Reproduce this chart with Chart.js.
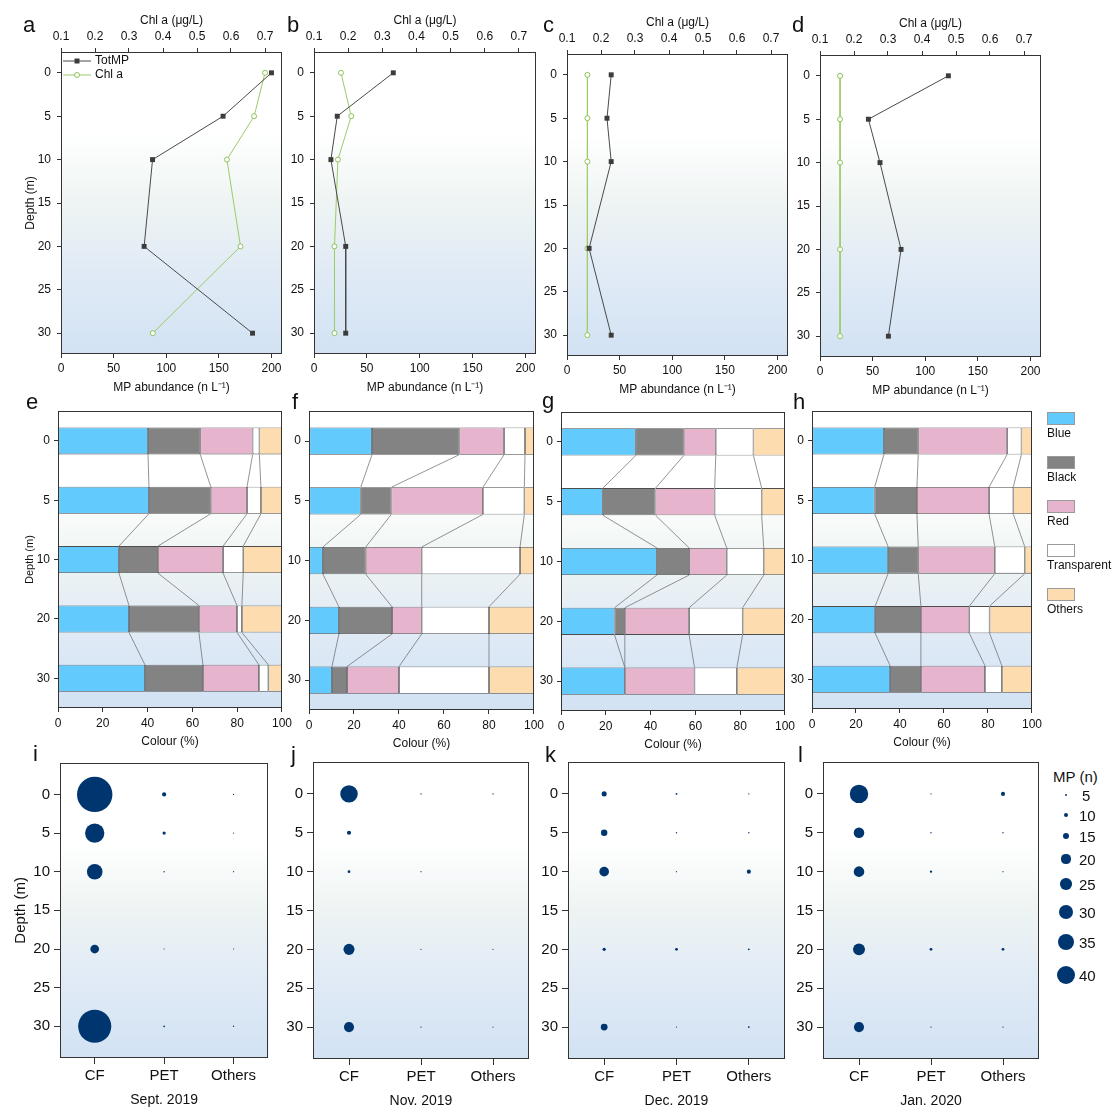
<!DOCTYPE html>
<html><head><meta charset="utf-8">
<script src="https://cdn.jsdelivr.net/npm/chart.js@4.4.0/dist/chart.umd.min.js"></script>
<style>
html,body{margin:0;padding:0;background:#fff;width:1116px;height:1110px;overflow:hidden;font-family:"Liberation Sans",Arial,sans-serif;}
#root{position:relative;width:1116px;height:1110px;}
canvas{position:absolute;}
.lbl{position:absolute;color:#111;white-space:nowrap;font-family:"Liberation Sans",Arial,sans-serif;}
</style></head><body>
<div id="root"></div>
<script>
// ---------------- DATA ----------------
const depthsLine = [0, 5, 10, 20, 30];
// panels a-d : MP abundance (n L-1) and Chl a (ug/L)
const mpA = [200, 154, 87, 79, 182];
const chlA = [0.700, 0.668, 0.588, 0.628, 0.370];
const mpB = [75, 22, 16, 30, 30];
const chlB = [0.179, 0.209, 0.170, 0.160, 0.160];
const mpC = [42, 38, 42, 21, 42];
const chlC = [0.160, 0.160, 0.160, 0.160, 0.160];
const mpD = [122, 46, 57, 77, 65];
const chlD = [0.159, 0.159, 0.159, 0.159, 0.159];

// panels e-h : colour composition (%)
const depthCats = ['0', '5', '10', '20', '30'];
const colourNames = ['Blue', 'Black', 'Red', 'Transparent', 'Others'];
const blueE = [40.2, 40.6, 27.2, 31.7, 38.8];
const blackE = [23.3, 27.6, 17.4, 31.2, 25.9];
const redE = [23.4, 16.2, 29.1, 17.0, 25.0];
const transE = [3.0, 6.2, 9.0, 2.2, 4.2];
const othersE = [10.1, 9.4, 17.3, 17.9, 6.1];

const blueF = [28.0, 23.0, 6.2, 13.3, 10.2];
const blackF = [38.8, 13.6, 19.0, 23.6, 6.7];
const redF = [19.9, 40.7, 24.9, 13.2, 23.1];
const transF = [9.3, 18.4, 43.7, 29.9, 40.0];
const othersF = [4.0, 4.3, 6.2, 20.0, 20.0];

const blueG = [33.4, 18.7, 42.8, 23.9, 28.5];
const blackG = [21.4, 23.5, 14.4, 4.6, 0.0];
const redG = [14.3, 26.4, 16.8, 28.7, 31.1];
const transG = [16.8, 21.0, 16.5, 23.9, 18.9];
const othersG = [14.1, 10.4, 9.5, 18.9, 21.5];

const blueH = [32.7, 28.5, 34.6, 28.7, 35.5];
const blackH = [15.6, 19.2, 13.7, 20.8, 14.0];
const redH = [40.4, 32.8, 34.8, 22.0, 29.1];
const transH = [6.5, 11.0, 13.6, 9.2, 7.7];
const othersH = [4.8, 8.5, 3.3, 19.3, 13.7];

// panels i-l : MP counts by polymer
const bubbleCats = ['CF', 'PET', 'Others'];
const depthsBubble = [0, 5, 10, 20, 30];
const cfI = [77, 42, 34, 19, 72];
const petI = [9, 7, 3, 2, 4];
const othI = [2, 2, 2, 2, 3];
const cfJ = [38, 9, 6, 24, 22];
const petJ = [3, 0, 1, 2, 3];
const othJ = [3, 0, 0, 2, 2];
const cfK = [11, 14, 21, 7, 15];
const petK = [4, 3, 1, 6, 2];
const othK = [1, 3, 9, 4, 4];
const cfL = [40, 23, 23, 26, 22];
const petL = [1, 3, 5, 6, 3];
const othL = [9, 3, 2, 6, 3];
const legendSizes = [5, 10, 15, 20, 25, 30, 35, 40];
const monthLabels = ['Sept. 2019', 'Nov. 2019', 'Dec. 2019', 'Jan. 2020'];

// ---------------- STYLE ----------------
const FONT = '"Liberation Sans", Arial, sans-serif';
const TXT = '#111111';
const AX = '#333333';
const colourFills = ['#62cafc', '#838383', '#e6b4cc', '#ffffff', '#fddcb0'];
const NAVY = '#003670';
const root = document.getElementById('root');

function radiusOf(n) { return n <= 0 ? 0 : Math.max(0.6, 0.23 * n); }

function mkCanvas(g) {
  const c = document.createElement('canvas');
  c.width = g.w; c.height = g.h;
  c.style.left = g.cl + 'px'; c.style.top = g.ct + 'px';
  c.style.width = g.w + 'px'; c.style.height = g.h + 'px';
  root.appendChild(c);
  return c;
}
function geom(plot, canvas) {
  const [pl, pt, pr, pb] = plot, [cl, ct, cr, cb] = canvas;
  return { cl, ct, leftW: pl - cl, topH: pt - ct, bottomH: cb - pb, rightPad: cr - pr, w: cr - cl, h: cb - ct };
}
function bgGradient(ctx, a) {
  const g = ctx.createLinearGradient(0, a.top, 0, a.bottom);
  g.addColorStop(0, '#ffffff');
  g.addColorStop(0.27, '#ffffff');
  g.addColorStop(0.5, '#eef4f3');
  g.addColorStop(0.72, '#e1ebf6');
  g.addColorStop(1, '#d2e2f3');
  return g;
}
const framePlugin = {
  id: 'frame',
  beforeDraw(chart) {
    const { ctx, chartArea: a } = chart;
    ctx.save();
    ctx.fillStyle = bgGradient(ctx, a);
    ctx.fillRect(a.left, a.top, a.right - a.left, a.bottom - a.top);
    ctx.restore();
  },
  afterDraw(chart) {
    const { ctx, chartArea: a } = chart;
    ctx.save();
    ctx.strokeStyle = AX; ctx.lineWidth = 1;
    ctx.strokeRect(Math.round(a.left) + 0.5, Math.round(a.top) + 0.5, Math.round(a.right - a.left) - 1, Math.round(a.bottom - a.top) - 1);
    ctx.restore();
  }
};
function tickFont(sz) { return { family: FONT, size: sz }; }
function gridOpts(len) { return { display: true, drawOnChartArea: false, drawTicks: true, tickLength: len, tickColor: AX, tickWidth: 1, offset: false }; }

// ---------------- ROW 1: line panels ----------------
const legendLinePlugin = {
  id: 'legendLine',
  afterDraw(chart) {
    const { ctx, chartArea: a } = chart;
    const items = [
      { text: 'TotMP', color: '#4a4a4a', marker: 'rect' },
      { text: 'Chl a', color: '#9ccc65', marker: 'circle' }
    ];
    ctx.save();
    items.forEach((it, i) => {
      const y = a.top + 9 + i * 14;
      const x0 = a.left + 2, x1 = a.left + 30, xm = (x0 + x1) / 2;
      ctx.strokeStyle = it.color; ctx.lineWidth = 1;
      ctx.beginPath(); ctx.moveTo(x0, y); ctx.lineTo(x1, y); ctx.stroke();
      if (it.marker === 'rect') { ctx.fillStyle = '#3c3c3c'; ctx.fillRect(xm - 2.5, y - 2.5, 5, 5); }
      else { ctx.fillStyle = '#fff'; ctx.strokeStyle = '#8fc45a'; ctx.beginPath(); ctx.arc(xm, y, 2.5, 0, Math.PI * 2); ctx.fill(); ctx.stroke(); }
      ctx.fillStyle = TXT; ctx.font = '12px ' + FONT; ctx.textBaseline = 'middle'; ctx.textAlign = 'left';
      ctx.fillText(it.text, a.left + 34, y);
    });
    ctx.restore();
  }
};

function linePanel(plot, canvas, mp, chl, depthTitle, withLegend) {
  const g = geom(plot, canvas);
  const c = mkCanvas(g);
  const plugins = [framePlugin];
  if (withLegend) plugins.push(legendLinePlugin);
  new Chart(c, {
    type: 'scatter',
    data: {
      datasets: [
        { label: 'TotMP', data: depthsLine.map((d, i) => ({ x: mp[i], y: d })), xAxisID: 'x', yAxisID: 'y', showLine: true,
          borderColor: '#4a4a4a', borderWidth: 1, pointStyle: 'rect', pointRadius: 3.5, pointBackgroundColor: '#3c3c3c',
          pointBorderColor: '#3c3c3c', pointBorderWidth: 0, pointHoverRadius: 3.5 },
        { label: 'Chl a', data: depthsLine.map((d, i) => ({ x: chl[i], y: d })), xAxisID: 'x2', yAxisID: 'y', showLine: true,
          borderColor: '#9ccc65', borderWidth: 1, pointStyle: 'circle', pointRadius: 2.5, pointBackgroundColor: '#ffffff',
          pointBorderColor: '#8fc45a', pointBorderWidth: 1, pointHoverRadius: 2.5 }
      ]
    },
    options: {
      responsive: false, animation: false, devicePixelRatio: 1, events: [],
      layout: { padding: { top: 0, right: g.rightPad, left: 0, bottom: 0 } },
      plugins: { legend: { display: false }, tooltip: { enabled: false } },
      scales: {
        x: { type: 'linear', position: 'bottom', min: 0, max: 210,
          ticks: { stepSize: 50, font: tickFont(12), color: TXT, padding: 3, includeBounds: false, autoSkip: false, maxRotation: 0 },
          grid: gridOpts(4), border: { display: false },
          title: { display: true, text: 'MP abundance (n L⁻¹)', font: tickFont(12), color: TXT, padding: 0 },
          afterFit: s => { s.height = g.bottomH; } },
        x2: { type: 'linear', position: 'top', min: 0.1, max: 0.75,
          ticks: { stepSize: 0.1, font: tickFont(12), color: TXT, padding: 4, includeBounds: false, autoSkip: false, maxRotation: 0,
            callback: v => v.toFixed(1) },
          grid: gridOpts(4), border: { display: false },
          title: { display: true, text: 'Chl a (μg/L)', font: tickFont(12), color: TXT, padding: 0 },
          afterFit: s => { s.height = g.topH; } },
        y: { type: 'linear', reverse: true, min: -2.4, max: 32.4,
          ticks: { stepSize: 5, font: tickFont(12), color: TXT, padding: 6, includeBounds: false, autoSkip: false },
          grid: gridOpts(4), border: { display: false },
          title: { display: depthTitle, text: 'Depth (m)', font: tickFont(12), color: TXT, padding: 0 },
          afterFit: s => { s.width = g.leftW; } }
      }
    },
    plugins
  });
}

linePanel([61, 52, 282, 354], [23, 13, 294, 395], mpA, chlA, true, true);
linePanel([314, 52, 536, 354], [284, 13, 548, 395], mpB, chlB, false, false);
linePanel([567, 54, 788, 356], [537, 15, 800, 397], mpC, chlC, false, false);
linePanel([820, 55, 1041, 357], [790, 16, 1053, 398], mpD, chlD, false, false);

// ---------------- ROW 2: stacked colour bars ----------------
const connectorPlugin = {
  id: 'connector',
  afterDatasetsDraw(chart) {
    const ds = chart.data.datasets, xs = chart.scales.x, ctx = chart.ctx;
    const n = chart.data.labels.length;
    const meta0 = chart.getDatasetMeta(0);
    ctx.save();
    ctx.strokeStyle = '#666666'; ctx.lineWidth = 0.7;
    for (let i = 0; i < n - 1; i++) {
      const b1 = meta0.data[i], b2 = meta0.data[i + 1];
      const y1 = b1.y + b1.height / 2, y2 = b2.y - b2.height / 2;
      let c1 = 0, c2 = 0;
      for (let k = 0; k < ds.length - 1; k++) {
        c1 += ds[k].data[i]; c2 += ds[k].data[i + 1];
        ctx.beginPath();
        ctx.moveTo(xs.getPixelForValue(c1), y1);
        ctx.lineTo(xs.getPixelForValue(c2), y2);
        ctx.stroke();
      }
    }
    ctx.restore();
  }
};

function barPanel(plot, canvas, series, depthTitle) {
  const g = geom(plot, canvas);
  const c = mkCanvas(g);
  new Chart(c, {
    type: 'bar',
    data: {
      labels: depthCats,
      datasets: series.map((arr, k) => ({
        label: colourNames[k], data: arr, backgroundColor: colourFills[k], borderColor: '#4d4d4d',
        borderWidth: 0.8, borderSkipped: false, barPercentage: 0.91, categoryPercentage: 0.5
      }))
    },
    options: {
      indexAxis: 'y', responsive: false, animation: false, devicePixelRatio: 1, events: [],
      layout: { padding: { top: g.topH, right: g.rightPad, left: 0, bottom: 0 } },
      plugins: { legend: { display: false }, tooltip: { enabled: false } },
      scales: {
        x: { type: 'linear', stacked: true, min: 0, max: 100,
          ticks: { stepSize: 20, font: tickFont(12), color: TXT, padding: 4, autoSkip: false, maxRotation: 0 },
          grid: gridOpts(4), border: { display: false },
          title: { display: true, text: 'Colour (%)', font: tickFont(12), color: TXT, padding: 0 },
          afterFit: s => { s.height = g.bottomH; } },
        y: { type: 'category', stacked: true,
          ticks: { font: tickFont(12), color: TXT, padding: 4, autoSkip: false },
          grid: gridOpts(4), border: { display: false },
          title: { display: depthTitle, text: 'Depth (m)', font: tickFont(11), color: TXT, padding: 0 },
          afterFit: s => { s.width = g.leftW; } }
      }
    },
    plugins: [framePlugin, connectorPlugin]
  });
}

barPanel([58, 409, 282, 708], [23, 400, 296, 749], [blueE, blackE, redE, transE, othersE], true);
barPanel([309, 411, 534, 710], [279, 400, 548, 751], [blueF, blackF, redF, transF, othersF], false);
barPanel([561, 412, 785, 711], [531, 400, 799, 752], [blueG, blackG, redG, transG, othersG], false);
barPanel([812, 411, 1037, 709], [782, 400, 1046, 750], [blueH, blackH, redH, transH, othersH], false);

// ---------------- ROW 3: bubble panels ----------------
function bubblePanel(plot, canvas, counts, month, depthTitle) {
  const g = geom(plot, canvas);
  const c = mkCanvas(g);
  const pts = [];
  bubbleCats.forEach((cat, ci) => depthsBubble.forEach((d, di) => pts.push({ x: cat, y: d, n: counts[ci][di] })));
  new Chart(c, {
    type: 'bubble',
    data: { labels: bubbleCats, datasets: [{ data: pts, backgroundColor: NAVY, borderWidth: 0, hoverBorderWidth: 0,
      radius: ctx => radiusOf(ctx.raw ? ctx.raw.n : 0), hoverRadius: 0 }] },
    options: {
      responsive: false, animation: false, devicePixelRatio: 1, events: [],
      layout: { padding: { top: g.topH, right: g.rightPad, left: 0, bottom: 0 } },
      plugins: { legend: { display: false }, tooltip: { enabled: false } },
      scales: {
        x: { type: 'category', labels: bubbleCats, offset: true,
          ticks: { font: tickFont(15), color: TXT, padding: 3, autoSkip: false, maxRotation: 0 },
          grid: gridOpts(6), border: { display: false },
          title: { display: true, text: month, font: tickFont(14), color: TXT, padding: 0 },
          afterFit: s => { s.height = g.bottomH; } },
        y: { type: 'linear', reverse: true, min: -4.1, max: 34.1,
          ticks: { stepSize: 5, font: tickFont(15), color: TXT, padding: 4, includeBounds: false, autoSkip: false },
          grid: gridOpts(6), border: { display: false },
          title: { display: depthTitle, text: 'Depth (m)', font: tickFont(15), color: TXT, padding: 0 },
          afterFit: s => { s.width = g.leftW; } }
      }
    },
    plugins: [framePlugin]
  });
}

bubblePanel([60, 760, 276, 1058], [12, 745, 286, 1109], [cfI, petI, othI], monthLabels[0], true);
bubblePanel([313, 762, 529, 1059], [277, 745, 539, 1110], [cfJ, petJ, othJ], monthLabels[1], false);
bubblePanel([568, 762, 785, 1059], [532, 745, 795, 1110], [cfK, petK, othK], monthLabels[2], false);
bubblePanel([823, 762, 1039, 1059], [787, 745, 1049, 1110], [cfL, petL, othL], monthLabels[3], false);

// ---------------- HTML labels & legends ----------------
function addText(txt, x, baselineY, size, extra) {
  const d = document.createElement('div');
  d.className = 'lbl';
  d.textContent = txt;
  d.style.fontSize = size + 'px';
  d.style.lineHeight = size + 'px';
  d.style.left = x + 'px';
  d.style.top = (baselineY - 0.845 * size) + 'px';
  if (extra) Object.assign(d.style, extra);
  root.appendChild(d);
  return d;
}
// panel letters
[['a', 23, 33], ['b', 287, 33], ['c', 543, 33], ['d', 792, 33],
 ['e', 26, 410], ['f', 292, 410], ['g', 542, 409], ['h', 793, 410],
 ['i', 33, 762], ['j', 291, 763], ['k', 545, 763], ['l', 798, 763]].forEach(([t, x, y]) => addText(t, x, y, 22));

// colour legend
colourNames.forEach((name, k) => {
  const top = 412 + k * 44;
  const sw = document.createElement('div');
  sw.style.cssText = `position:absolute;left:1047px;top:${top}px;width:26px;height:11px;background:${colourFills[k]};border:1px solid #9a9a9a;`;
  root.appendChild(sw);
  addText(name, 1047, top + 25, 12);
});

// bubble size legend
addText('MP (n)', 1053, 782, 15);
const legendYs = [795, 815, 836, 859, 884, 912, 942, 975];
legendSizes.forEach((n, i) => {
  const r = radiusOf(n), cx = 1066, cy = legendYs[i];
  const dot = document.createElement('div');
  dot.style.cssText = `position:absolute;left:${cx - r}px;top:${cy - r}px;width:${2 * r}px;height:${2 * r}px;border-radius:50%;background:${NAVY};`;
  root.appendChild(dot);
  addText(String(n), n < 10 ? 1082 : 1079, cy + 5.5, 15);
});
</script>
</body></html>
